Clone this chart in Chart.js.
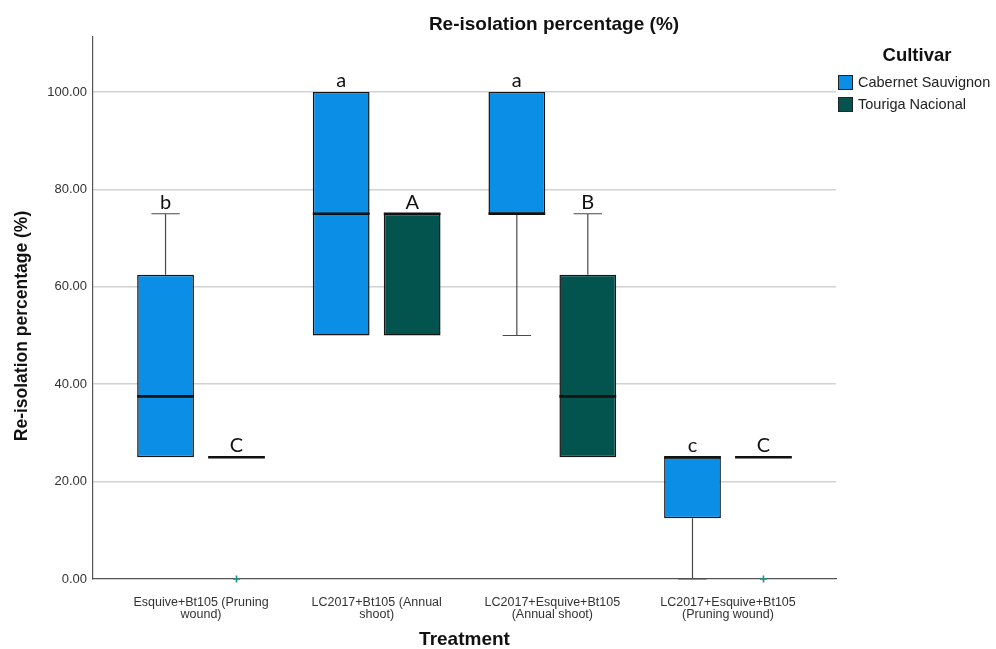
<!DOCTYPE html>
<html>
<head>
<meta charset="utf-8">
<script src="https://cdn.jsdelivr.net/npm/chart.js@4.4.1/dist/chart.umd.min.js"></script>
<style>
  html, body { margin: 0; padding: 0; background: #ffffff; }
  #wrap { width: 996px; height: 649px; }
</style>
</head>
<body>
<div id="wrap"><canvas id="chart" width="996" height="649"></canvas></div>
<script>
// Treatments (x categories), shown on two lines each
const treatments = [
  ["Esquive+Bt105 (Pruning", "wound)"],
  ["LC2017+Bt105 (Annual", "shoot)"],
  ["LC2017+Esquive+Bt105", "(Annual shoot)"],
  ["LC2017+Esquive+Bt105", "(Pruning wound)"]
];
const cultivars = ["Cabernet Sauvignon", "Touriga Nacional"];

// Box-plot summaries, Cabernet Sauvignon
const cabMin      = [25, 50, 50, 0];
const cabQ1       = [25, 50, 75, 12.5];
const cabMedian   = [37.5, 75, 75, 25];
const cabQ3       = [62.5, 100, 100, 25];
const cabMax      = [75, 100, 100, 25];
const cabOutliers = [[], [], [], []];
const cabLetters  = ["b", "a", "a", "c"];

// Box-plot summaries, Touriga Nacional
const touMin      = [25, 50, 25, 25];
const touQ1       = [25, 50, 25, 25];
const touMedian   = [25, 75, 37.5, 25];
const touQ3       = [25, 75, 62.5, 25];
const touMax      = [25, 75, 75, 25];
const touOutliers = [[0], [], [], [0]];
const touLetters  = ["C", "A", "B", "C"];

// Value-axis tick labels
const yTicks = [0, 20, 40, 60, 80, 100];

const cultivarColors = ["#0b8fe6", "#03534f"];
const FONT = "'Liberation Sans', Arial, sans-serif";

function boxDataset(label, color, q1, q3, min, median, max, outliers, letters) {
  return {
    label,
    data: treatments.map((_, i) => ({ x: i, y: [q1[i], q3[i]] })),
    backgroundColor: color,
    borderColor: "#151515",
    borderWidth: 1.5,
    borderSkipped: false,
    stats: { min, median, max, outliers, letters }
  };
}

// Whiskers, medians, outliers, group letters, title, y title and legend
const boxPlotExtras = {
  id: "boxPlotExtras",
  afterDatasetsDraw(chart) {
    const { ctx } = chart;
    const y = chart.scales.y;
    chart.data.datasets.forEach((ds, d) => {
      const meta = chart.getDatasetMeta(d);
      const s = ds.stats;
      meta.data.forEach((bar, i) => {
        const cx = bar.x, w = bar.width;
        const q1 = ds.data[i].y[0], q3 = ds.data[i].y[1];
        ctx.save();
        ctx.strokeStyle = "#4a4a4a";
        ctx.lineWidth = 1.2;
        if (s.max[i] > q3) {
          ctx.beginPath();
          ctx.moveTo(cx, y.getPixelForValue(q3));
          ctx.lineTo(cx, y.getPixelForValue(s.max[i]));
          ctx.moveTo(cx - w / 4, y.getPixelForValue(s.max[i]));
          ctx.lineTo(cx + w / 4, y.getPixelForValue(s.max[i]));
          ctx.stroke();
        }
        if (s.min[i] < q1) {
          ctx.beginPath();
          ctx.moveTo(cx, y.getPixelForValue(q1));
          ctx.lineTo(cx, y.getPixelForValue(s.min[i]));
          ctx.moveTo(cx - w / 4, y.getPixelForValue(s.min[i]));
          ctx.lineTo(cx + w / 4, y.getPixelForValue(s.min[i]));
          ctx.stroke();
        }
        // median
        ctx.strokeStyle = "#111111";
        ctx.lineWidth = 2.6;
        ctx.beginPath();
        ctx.moveTo(cx - w / 2, y.getPixelForValue(s.median[i]));
        ctx.lineTo(cx + w / 2, y.getPixelForValue(s.median[i]));
        ctx.stroke();
        // outliers
        ctx.strokeStyle = "#1f8f8c";
        ctx.lineWidth = 1.6;
        s.outliers[i].forEach(v => {
          const py = y.getPixelForValue(v);
          ctx.beginPath();
          ctx.moveTo(cx - 3.5, py); ctx.lineTo(cx + 3.5, py);
          ctx.moveTo(cx, py - 3.5); ctx.lineTo(cx, py + 3.5);
          ctx.stroke();
        });
        // significance letter
        ctx.fillStyle = "#111111";
        ctx.font = "20px Lato, 'Open Sans', sans-serif";
        ctx.textAlign = "center";
        ctx.textBaseline = "alphabetic";
        ctx.fillText(s.letters[i], cx, y.getPixelForValue(s.max[i]) - 5);
        ctx.restore();
      });
    });

    ctx.save();
    // chart title
    ctx.fillStyle = "#111111";
    ctx.font = "bold 19px " + FONT;
    ctx.textAlign = "center";
    ctx.textBaseline = "middle";
    ctx.fillText("Re-isolation percentage (%)", 554, 25);

    // y-axis title
    ctx.save();
    ctx.translate(22, 326);
    ctx.rotate(-Math.PI / 2);
    ctx.font = "bold 17.5px " + FONT;
    ctx.fillText("Re-isolation percentage (%)", 0, 0);
    ctx.restore();

    // legend
    ctx.font = "bold 18.5px " + FONT;
    ctx.fillText("Cultivar", 917, 56);
    ctx.textAlign = "left";
    ctx.font = "14.5px " + FONT;
    cultivars.forEach((name, k) => {
      const top = 75 + k * 22;
      ctx.fillStyle = cultivarColors[k];
      ctx.fillRect(838, top, 15, 15);
      ctx.strokeStyle = "#222222";
      ctx.lineWidth = 1;
      ctx.strokeRect(838.5, top + 0.5, 14, 14);
      ctx.fillStyle = "#222222";
      ctx.fillText(name, 858, top + 8);
    });
    ctx.restore();
  }
};

new Chart(document.getElementById("chart"), {
  type: "bar",
  data: {
    datasets: [
      boxDataset(cultivars[0], cultivarColors[0], cabQ1, cabQ3, cabMin, cabMedian, cabMax, cabOutliers, cabLetters),
      boxDataset(cultivars[1], cultivarColors[1], touQ1, touQ3, touMin, touMedian, touMax, touOutliers, touLetters)
    ]
  },
  options: {
    responsive: false,
    animation: false,
    devicePixelRatio: 1,
    categoryPercentage: 0.808,
    barPercentage: 0.8,
    layout: { padding: { left: 8, top: 37, right: 160, bottom: 0 } },
    plugins: {
      legend: { display: false },
      tooltip: { enabled: false },
      title: { display: false }
    },
    scales: {
      x: {
        type: "linear",
        min: -0.615,
        max: 3.615,
        offset: false,
        afterBuildTicks: s => { s.ticks = treatments.map((_, i) => ({ value: i })); },
        afterFit: s => { s.height = 70; },
        ticks: {
          autoSkip: false,
          maxRotation: 0,
          padding: 9,
          color: "#333333",
          font: { family: FONT, size: 12.5, lineHeight: 1.0 },
          callback: v => treatments[v]
        },
        grid: { display: false, offset: false },
        border: { display: true, color: "#555555", width: 1.2 },
        title: {
          display: true,
          text: "Treatment",
          color: "#111111",
          font: { family: FONT, size: 19, weight: "bold", lineHeight: 1.0 },
          padding: { top: 0, bottom: 0 }
        }
      },
      y: {
        min: 0,
        max: 111.3,
        afterBuildTicks: s => { s.ticks = yTicks.map(v => ({ value: v })); },
        afterFit: s => { s.width = 85; },
        ticks: {
          padding: 6,
          color: "#333333",
          font: { family: FONT, size: 13 },
          callback: v => Number(v).toFixed(2)
        },
        grid: {
          drawTicks: false,
          color: c => (c.tick && c.tick.value === 0 ? "rgba(0,0,0,0)" : "#d2d2d2"),
          lineWidth: 1.5
        },
        border: { display: true, color: "#555555", width: 1.2 }
      }
    }
  },
  plugins: [boxPlotExtras]
});
</script>
</body>
</html>
